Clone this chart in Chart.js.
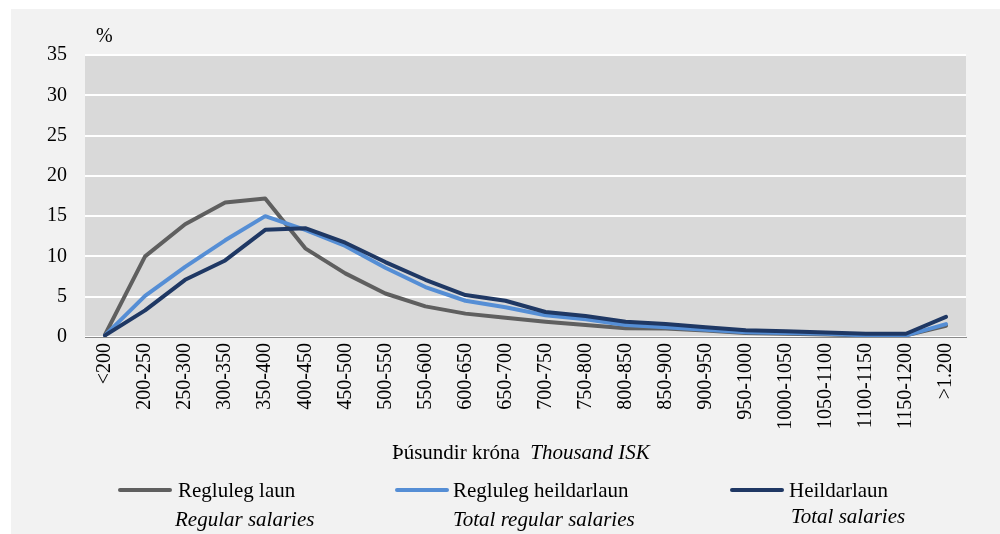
<!DOCTYPE html>
<html>
<head>
<meta charset="utf-8">
<script src="https://cdn.jsdelivr.net/npm/chart.js@4"></script>
<style>
    body { margin: 0; background: #fff; font-family: 'Liberation Serif', serif; }
    #frame { position: absolute; left: 11px; top: 9px; right: 0; bottom: 0; background: #f2f2f2; }
    #wrap { position: absolute; left: 0; top: 0; width: 1000px; height: 534px; }
    canvas { position: absolute; left: 0; top: 0; }
    .txt { position: absolute; font-size: 21px; line-height: 24px; color: #000; white-space: nowrap; }
    .it { font-style: italic; }
    .swatch { position: absolute; height: 4px; border-radius: 2px; }
</style>
</head>
<body>
<div id="frame"></div>
<div id="wrap">
    <canvas id="grafico" width="1000" height="534"></canvas>
    <div class="txt" style="left:96px; top:23px; font-size:20px;">%</div>
    <div class="txt" style="left:392px; top:440px;">Þúsundir króna&nbsp;&nbsp;<span class="it">Thousand ISK</span></div>

    <div class="swatch" style="left:118px; top:488px; width:54px; background:#5f5f5f;"></div>
    <div class="txt" style="left:178px; top:478px;">Regluleg laun</div>
    <div class="txt it" style="left:175px; top:507px;">Regular salaries</div>

    <div class="swatch" style="left:395px; top:488px; width:54px; background:#558ed5;"></div>
    <div class="txt" style="left:453px; top:478px;">Regluleg heildarlaun</div>
    <div class="txt it" style="left:453px; top:507px;">Total regular salaries</div>

    <div class="swatch" style="left:730px; top:488px; width:54px; background:#1f3864;"></div>
    <div class="txt" style="left:789px; top:478px;">Heildarlaun</div>
    <div class="txt it" style="left:791px; top:504px;">Total salaries</div>
</div>
<script>
// ── LAUNADREIFING ─────────────────────────────────────────────

const flokkar = ['<200', '200-250', '250-300', '300-350', '350-400', '400-450', '450-500',
    '500-550', '550-600', '600-650', '650-700', '700-750', '750-800', '800-850', '850-900',
    '900-950', '950-1000', '1000-1050', '1050-1100', '1100-1150', '1150-1200', '>1.200'];

const reglulegLaun        = [0.3, 10.0, 14.0, 16.7, 17.2, 11.0, 7.9, 5.4, 3.8, 2.9, 2.4, 1.9, 1.5, 1.1, 1.05, 0.8, 0.5, 0.4, 0.3, 0.2, 0.2, 1.4];
const reglulegHeildarlaun = [0.2, 5.1, 8.7, 12.0, 15.0, 13.3, 11.3, 8.6, 6.2, 4.5, 3.7, 2.7, 2.2, 1.5, 1.2, 0.9, 0.6, 0.5, 0.4, 0.2, 0.2, 1.6];
const heildarlaun         = [0.2, 3.3, 7.1, 9.5, 13.3, 13.5, 11.7, 9.3, 7.1, 5.2, 4.5, 3.1, 2.6, 1.9, 1.6, 1.2, 0.85, 0.7, 0.55, 0.4, 0.4, 2.5];

const yMax = 35;
const yStep = 5;

const leturgerd = { family: "'Liberation Serif', serif", size: 20 };

// grár bakgrunnur á teiknisvæði
const bakgrunnur = {
    id: 'bakgrunnur',
    beforeDraw(chart) {
        const a = chart.chartArea;
        const ctx = chart.ctx;
        ctx.save();
        ctx.fillStyle = '#d9d9d9';
        ctx.fillRect(a.left, a.top, a.right - a.left, a.bottom - a.top);
        ctx.restore();
    }
};

function lina(label, data, litur, rod) {
    return {
        label, data,
        borderColor: litur,
        backgroundColor: litur,
        borderWidth: 4,
        pointRadius: 0,
        tension: 0,
        order: rod,
        borderJoinStyle: 'round',
        borderCapStyle: 'round'
    };
}

new Chart(document.getElementById('grafico').getContext('2d'), {
    type: 'line',
    data: {
        labels: flokkar,
        datasets: [
            lina('Regluleg laun', reglulegLaun, '#5f5f5f', 3),
            lina('Regluleg heildarlaun', reglulegHeildarlaun, '#558ed5', 2),
            lina('Heildarlaun', heildarlaun, '#1f3864', 1)
        ]
    },
    options: {
        responsive: false,
        animation: false,
        layout: { padding: { top: 55, right: 34, left: 0, bottom: 0 } },
        plugins: { legend: { display: false }, tooltip: { enabled: false } },
        scales: {
            x: {
                offset: true,
                grid: { display: false, drawTicks: false },
                border: { color: '#898989', width: 1 },
                ticks: { color: '#000', font: leturgerd, minRotation: 90, maxRotation: 90, padding: 6, autoSkip: false },
                afterFit: s => { s.height = 534 - 337; }
            },
            y: {
                min: 0, max: yMax,
                grid: { color: '#ffffff', lineWidth: 2, drawTicks: false },
                border: { display: false },
                ticks: { stepSize: yStep, color: '#000', font: leturgerd, padding: 18 },
                afterFit: s => { s.width = 85; }
            }
        }
    },
    plugins: [bakgrunnur]
});
</script>
</body>
</html>
